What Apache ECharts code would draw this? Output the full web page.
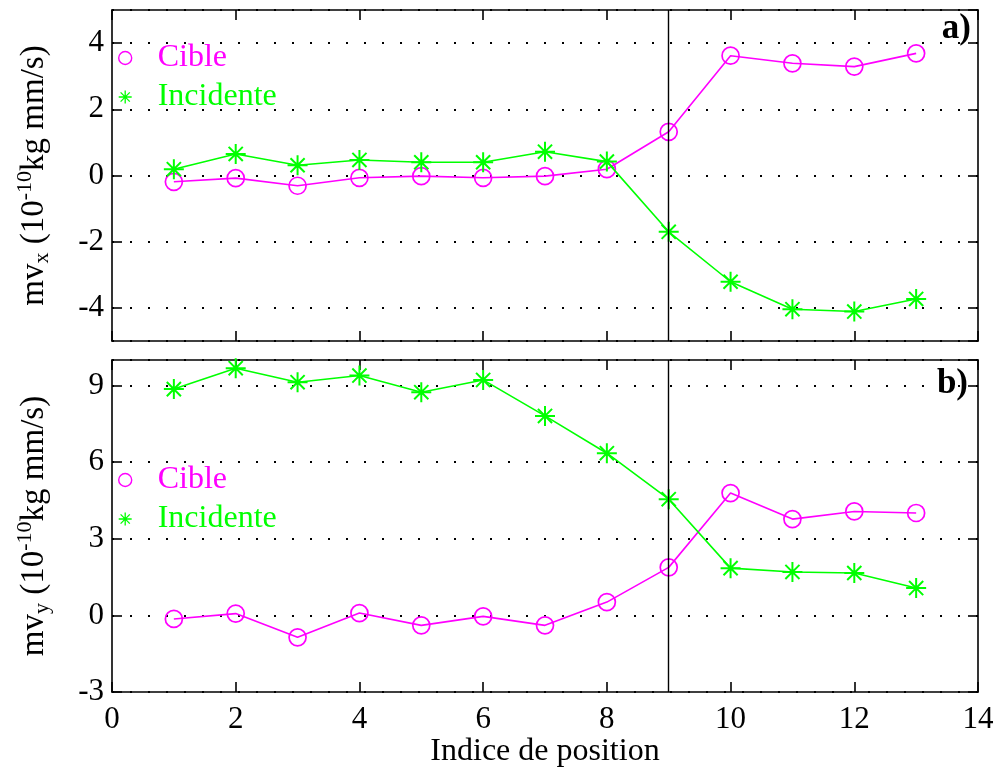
<!DOCTYPE html>
<html>
<head>
<meta charset="utf-8">
<script src="https://cdn.jsdelivr.net/npm/echarts@6/dist/echarts.min.js"></script>
<style>
  html, body { margin: 0; padding: 0; background: #fff; }
  #chart { width: 997px; height: 776px; }
</style>
</head>
<body>
<div id="chart"></div>
<script>
// ---- data ----
var positions = [1, 2, 3, 4, 5, 6, 7, 8, 9, 10, 11, 12, 13];
var mvxCible = [-0.19, -0.08, -0.31, -0.07, -0.02, -0.07, -0.02, 0.19, 1.32, 3.62, 3.39, 3.29, 3.69];
var mvxIncidente = [0.19, 0.65, 0.31, 0.47, 0.40, 0.40, 0.72, 0.42, -1.70, -3.21, -4.04, -4.11, -3.73];
var mvyCible = [-0.14, 0.07, -0.86, 0.09, -0.39, -0.04, -0.39, 0.52, 1.88, 4.79, 3.77, 4.07, 4.01];
var mvyIncidente = [8.86, 9.68, 9.13, 9.39, 8.74, 9.22, 7.81, 6.35, 4.55, 1.85, 1.70, 1.66, 1.07];
var seriesNames = ['Cible', 'Incidente'];
var markerPosition = 9;
var panelLabels = ['a)', 'b)'];

// ---- styling ----
var MAGENTA = '#ff00ff';
var GREEN = '#00ff00';
var FONT = 'Liberation Serif';
var STAR = 'path://M10,0 L10,20 M0,10 L20,10 M2.93,2.93 L17.07,17.07 M2.93,17.07 L17.07,2.93';

function pairs(ys) { return positions.map(function (x, i) { return [x, ys[i]]; }); }

var chart = echarts.init(document.getElementById('chart'), null, { renderer: 'canvas' });

function xAxisCfg(gridIndex, position, showLabels, withName) {
  var cfg = {
    type: 'value', gridIndex: gridIndex, position: position, min: 0, max: 14, interval: 2,
    axisLine: { show: true, onZero: false, lineStyle: { color: '#000', width: 1.6 } },
    axisTick: { show: true, inside: true, length: 10, lineStyle: { color: '#000', width: 1.6 } },
    axisLabel: { show: showLabels, color: '#000', fontFamily: FONT, fontSize: 31, margin: 12 },
    splitLine: { show: false }
  };
  if (withName) {
    cfg.name = 'Indice de position';
    cfg.nameLocation = 'middle';
    cfg.nameGap = 41;
    cfg.nameTextStyle = { color: '#000', fontFamily: FONT, fontSize: 32, verticalAlign: 'top' };
  }
  return cfg;
}

function yAxisCfg(gridIndex, position, min, max, extra, isMain, sub) {
  var cfg = {
    type: 'value', gridIndex: gridIndex, position: position, min: min, max: max,
    axisLine: { show: true, onZero: false, lineStyle: { color: '#000', width: 1.6 } },
    axisTick: { show: true, inside: true, length: 10, lineStyle: { color: '#000', width: 1.6 } },
    axisLabel: { show: isMain, color: '#000', fontFamily: FONT, fontSize: 31, margin: 8,
                 showMinLabel: extra.showMin, showMaxLabel: false },
    splitLine: isMain ? { show: true, lineStyle: { color: '#000', width: 1.8, type: [2, 16] } } : { show: false }
  };
  if (extra.interval) { cfg.interval = extra.interval; } else { cfg.splitNumber = extra.splitNumber; }
  if (isMain) {
    cfg.name = '{m|mv}{s|' + sub + '}{m| (10}{p|-10}{m|kg mm/s)}';
    cfg.nameLocation = 'middle';
    cfg.nameGap = 56;
    cfg.nameRotate = 90;
    cfg.nameTextStyle = {
      color: '#000', fontFamily: FONT, fontSize: 33,
      rich: {
        m: { fontFamily: FONT, fontSize: 33, color: '#000', lineHeight: 44, verticalAlign: 'middle' },
        s: { fontFamily: FONT, fontSize: 22, color: '#000', lineHeight: 44, verticalAlign: 'bottom', padding: [0, 0, 3, 0] },
        p: { fontFamily: FONT, fontSize: 22, color: '#000', lineHeight: 44, verticalAlign: 'top', padding: [2, 0, 0, 0] }
      }
    };
  }
  return cfg;
}

function seriesCfg(name, data, xi, yi, isCircle, withMark) {
  var color = isCircle ? MAGENTA : GREEN;
  var s = {
    type: 'line', name: name, data: data, xAxisIndex: xi, yAxisIndex: yi,
    symbol: isCircle ? 'circle' : STAR,
    symbolSize: isCircle ? 17 : 20,
    showAllSymbol: true,
    lineStyle: { color: color, width: 1.6 },
    itemStyle: { color: 'transparent', borderColor: color, borderWidth: isCircle ? 1.7 : 2 },
    animation: false, z: isCircle ? 3 : 4
  };
  if (withMark) {
    s.markLine = {
      silent: true, symbol: 'none', animation: false,
      label: { show: false },
      lineStyle: { color: '#000', width: 1.4, type: 'solid' },
      data: [{ xAxis: markerPosition }]
    };
  }
  return s;
}

function legendCfg(top) {
  return {
    orient: 'vertical', left: 118, top: top, padding: 0, itemGap: 7,
    itemWidth: 55, itemHeight: 13, selectedMode: false,
    textStyle: { fontFamily: FONT, fontSize: 32, lineHeight: 31 },
    data: [
      { name: seriesNames[0], icon: 'circle',
        itemStyle: { color: 'transparent', borderColor: MAGENTA, borderWidth: 1.4 },
        textStyle: { color: MAGENTA, fontFamily: FONT, fontSize: 32 } },
      { name: seriesNames[1], icon: STAR,
        itemStyle: { color: 'transparent', borderColor: GREEN, borderWidth: 1.3 },
        textStyle: { color: GREEN, fontFamily: FONT, fontSize: 32 } }
    ]
  };
}

var option = {
  backgroundColor: '#fff',
  animation: false,
  grid: [
    { left: 112, right: 19, top: 10, height: 331 },
    { left: 112, right: 19, top: 360, height: 332 }
  ],
  legend: [legendCfg(42), legendCfg(464)],
  xAxis: [
    xAxisCfg(0, 'bottom', false, false),
    xAxisCfg(0, 'top', false, false),
    xAxisCfg(1, 'bottom', true, true),
    xAxisCfg(1, 'top', false, false)
  ],
  yAxis: [
    yAxisCfg(0, 'left', -5, 5, { splitNumber: 5, showMin: false }, true, 'x'),
    yAxisCfg(0, 'right', -5, 5, { splitNumber: 5, showMin: false }, false, 'x'),
    yAxisCfg(1, 'left', -3, 10, { interval: 3, showMin: true }, true, 'y'),
    yAxisCfg(1, 'right', -3, 10, { interval: 3, showMin: true }, false, 'y')
  ],
  series: [
    seriesCfg(seriesNames[0], pairs(mvxCible), 0, 0, true, true),
    seriesCfg(seriesNames[1], pairs(mvxIncidente), 0, 0, false, false),
    seriesCfg(seriesNames[0], pairs(mvyCible), 2, 2, true, true),
    seriesCfg(seriesNames[1], pairs(mvyIncidente), 2, 2, false, false)
  ],
  graphic: [
    { type: 'text', right: 26, top: 11, style: { text: panelLabels[0], fontFamily: FONT, fontSize: 35, fontWeight: 'bold', fill: '#000' } },
    { type: 'text', right: 29, top: 366, style: { text: panelLabels[1], fontFamily: FONT, fontSize: 35, fontWeight: 'bold', fill: '#000' } }
  ]
};
chart.setOption(option);
</script>
</body>
</html>
